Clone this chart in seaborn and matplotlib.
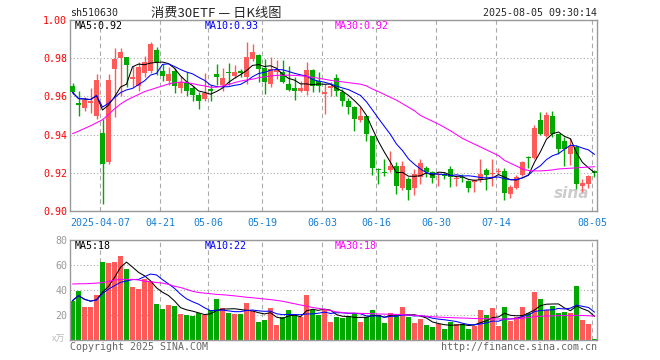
import numpy as np
import pandas as pd
import matplotlib
matplotlib.use('Agg')
import matplotlib.pyplot as plt
import seaborn as sns

sns.set_style('white')
plt.rcParams['font.family'] = ['DejaVu Sans Mono', 'Noto Sans CJK SC']

# trading days shown (2025-03-28 .. 2025-08-05, exchange holidays removed)
holidays = ['2025-04-04', '2025-05-01', '2025-05-02', '2025-05-05', '2025-06-02']
dates = [d.strftime('%Y-%m-%d') for d in pd.bdate_range('2025-03-28', '2025-08-05')
         if d.strftime('%Y-%m-%d') not in holidays]

tick_days = ['2025-04-07', '2025-04-21', '2025-05-06', '2025-05-19', '2025-06-03',
             '2025-06-16', '2025-06-30', '2025-07-14', '2025-08-05']
tick_labels = ['2025-04-07', '04-21', '05-06', '05-19', '06-03',
               '06-16', '06-30', '07-14', '08-05']

open_ = [0.9656, 0.9563, 0.9540, 0.9565, 0.9500, 0.9410, 0.9256, 0.9745, 0.9802, 0.9805,
         0.9690, 0.9655, 0.9725, 0.9735, 0.9842, 0.9733, 0.9680, 0.9733, 0.9645, 0.9675,
         0.9645, 0.9605, 0.9585, 0.9638, 0.9715, 0.9662, 0.9728, 0.9707, 0.9732, 0.9700,
         0.9796, 0.9818, 0.9747, 0.9665, 0.9730, 0.9730, 0.9665, 0.9646, 0.9630, 0.9630,
         0.9739, 0.9682, 0.9615, 0.9644, 0.9695, 0.9621, 0.9577, 0.9542, 0.9477, 0.9498,
         0.9393, 0.9221, 0.9203, 0.9214, 0.9235, 0.9121, 0.9168, 0.9121, 0.9179, 0.9225,
         0.9205, 0.9188, 0.9193, 0.9221, 0.9165, 0.9176, 0.9158, 0.9153, 0.9160, 0.9216,
         0.9193, 0.9205, 0.9212, 0.9088, 0.9123, 0.9188, 0.9283, 0.9275, 0.9475, 0.9393,
         0.9498, 0.9402, 0.9367, 0.9300, 0.9337, 0.9132, 0.9140, 0.9210]
high = [0.9668, 0.9630, 0.9595, 0.9645, 0.9718, 0.9480, 0.9718, 0.9855, 0.9855, 0.9805,
        0.9760, 0.9780, 0.9810, 0.9885, 0.9860, 0.9770, 0.9755, 0.9750, 0.9705, 0.9730,
        0.9655, 0.9625, 0.9720, 0.9660, 0.9770, 0.9750, 0.9775, 0.9765, 0.9745, 0.9884,
        0.9875, 0.9820, 0.9796, 0.9805, 0.9788, 0.9788, 0.9760, 0.9700, 0.9683, 0.9780,
        0.9742, 0.9726, 0.9665, 0.9675, 0.9715, 0.9640, 0.9590, 0.9550, 0.9542, 0.9500,
        0.9395, 0.9225, 0.9270, 0.9314, 0.9255, 0.9261, 0.9180, 0.9218, 0.9270, 0.9237,
        0.9210, 0.9202, 0.9200, 0.9235, 0.9186, 0.9195, 0.9160, 0.9168, 0.9274, 0.9225,
        0.9274, 0.9223, 0.9225, 0.9135, 0.9188, 0.9262, 0.9290, 0.9450, 0.9516, 0.9516,
        0.9525, 0.9405, 0.9390, 0.9384, 0.9345, 0.9170, 0.9190, 0.9214]
low = [0.9610, 0.9500, 0.9525, 0.9515, 0.9480, 0.9035, 0.9245, 0.9490, 0.9600, 0.9650,
       0.9650, 0.9630, 0.9700, 0.9720, 0.9710, 0.9680, 0.9660, 0.9620, 0.9620, 0.9600,
       0.9575, 0.9535, 0.9575, 0.9575, 0.9660, 0.9630, 0.9660, 0.9695, 0.9700, 0.9665,
       0.9785, 0.9674, 0.9612, 0.9650, 0.9690, 0.9670, 0.9630, 0.9582, 0.9625, 0.9605,
       0.9625, 0.9625, 0.9507, 0.9600, 0.9600, 0.9550, 0.9507, 0.9419, 0.9465, 0.9367,
       0.9191, 0.9139, 0.9182, 0.9205, 0.9091, 0.9110, 0.9060, 0.9086, 0.9140, 0.9180,
       0.9147, 0.9133, 0.9165, 0.9125, 0.9133, 0.9150, 0.9102, 0.9100, 0.9150, 0.9112,
       0.9130, 0.9195, 0.9060, 0.9070, 0.9115, 0.9184, 0.9225, 0.9270, 0.9398, 0.9390,
       0.9385, 0.9296, 0.9235, 0.9240, 0.9117, 0.9100, 0.9120, 0.9180]
close = [0.9621, 0.9556, 0.9582, 0.9575, 0.9686, 0.9244, 0.9686, 0.9795, 0.9833, 0.9762,
         0.9700, 0.9755, 0.9780, 0.9875, 0.9780, 0.9709, 0.9715, 0.9656, 0.9677, 0.9630,
         0.9605, 0.9575, 0.9618, 0.9630, 0.9700, 0.9695, 0.9722, 0.9728, 0.9724, 0.9805,
         0.9832, 0.9744, 0.9677, 0.9744, 0.9740, 0.9677, 0.9635, 0.9630, 0.9646, 0.9739,
         0.9656, 0.9656, 0.9620, 0.9652, 0.9630, 0.9577, 0.9547, 0.9481, 0.9495, 0.9402,
         0.9226, 0.9214, 0.9198, 0.9235, 0.9130, 0.9235, 0.9112, 0.9196, 0.9250, 0.9205,
         0.9174, 0.9192, 0.9185, 0.9177, 0.9170, 0.9172, 0.9123, 0.9160, 0.9195, 0.9186,
         0.9200, 0.9212, 0.9095, 0.9126, 0.9179, 0.9258, 0.9278, 0.9437, 0.9402, 0.9504,
         0.9402, 0.9323, 0.9323, 0.9340, 0.9139, 0.9147, 0.9182, 0.9200]
# volume, 10k lots
volume = [31.5, 39.5, 26.7, 26.7, 36.0, 62.7, 61.9, 62.7, 67.5, 56.8,
          42.7, 41.0, 48.8, 47.5, 28.8, 24.8, 28.0, 27.2, 20.8, 20.0,
          19.5, 21.3, 20.0, 24.0, 32.8, 25.6, 21.9, 20.8, 20.8, 29.6,
          23.2, 14.7, 16.0, 25.6, 12.0, 18.1, 24.0, 20.0, 18.7, 36.0,
          24.0, 20.0, 24.8, 14.7, 18.1, 17.3, 19.2, 21.3, 14.4, 18.7,
          24.0, 20.0, 13.9, 21.9, 20.0, 26.4, 18.7, 13.9, 16.8, 12.0,
          10.7, 12.5, 9.1, 14.7, 12.8, 12.8, 8.5, 11.5, 24.0, 20.0,
          25.6, 11.2, 26.4, 15.5, 18.1, 26.4, 21.6, 38.4, 32.8, 24.0,
          27.2, 21.9, 22.4, 21.6, 43.2, 16.0, 12.8, 0.8]
# 30-day averages as drawn (they reach back before the visible window)
ma30_price = [0.9405, 0.9418, 0.9432, 0.9446, 0.9462, 0.9478, 0.9505, 0.9535, 0.9560, 0.9580,
              0.9595, 0.9610, 0.9625, 0.9635, 0.9645, 0.9655, 0.9665, 0.9672, 0.9675, 0.9672,
              0.9667, 0.9660, 0.9655, 0.9648, 0.9648, 0.9655, 0.9662, 0.9672, 0.9680, 0.9686,
              0.9690, 0.9698, 0.9702, 0.9707, 0.9710, 0.9711, 0.9711, 0.9710, 0.9708, 0.9705,
              0.9700, 0.9695, 0.9690, 0.9684, 0.9680, 0.9676, 0.9672, 0.9668, 0.9664, 0.9655,
              0.9638, 0.9625, 0.9610, 0.9595, 0.9580, 0.9562, 0.9543, 0.9525, 0.9500, 0.9485,
              0.9470, 0.9455, 0.9438, 0.9420, 0.9400, 0.9380, 0.9365, 0.9350, 0.9335, 0.9320,
              0.9305, 0.9290, 0.9265, 0.9250, 0.9235, 0.9220, 0.9212, 0.9210, 0.9210, 0.9212,
              0.9215, 0.9220, 0.9222, 0.9224, 0.9226, 0.9228, 0.9230, 0.9232]
ma30_vol = [44.8, 45.0, 45.0, 45.2, 45.5, 45.9, 46.8, 48.0, 48.5, 48.5,
            48.5, 48.0, 47.0, 46.5, 46.0, 45.5, 44.5, 43.0, 42.0, 40.5,
            39.0, 38.0, 37.5, 37.0, 36.5, 36.2, 35.8, 35.3, 34.8, 34.2,
            33.8, 33.3, 32.8, 32.3, 31.7, 31.0, 30.0, 29.0, 28.0, 27.0,
            26.0, 25.3, 24.5, 23.5, 22.5, 22.0, 21.6, 21.5, 21.3, 21.2,
            21.0, 20.8, 20.7, 20.6, 20.5, 20.3, 20.0, 19.7, 19.4, 19.0,
            18.6, 18.3, 18.1, 17.9, 17.7, 17.6, 17.4, 17.2, 17.1, 17.0,
            16.9, 16.8, 16.8, 16.8, 17.0, 17.4, 18.0, 18.6, 19.0, 19.2,
            19.3, 19.5, 19.5, 19.6, 19.7, 19.6, 19.4, 19.2]

RED = '#ff5a5a'
GREEN = '#00a800'
GRID = '#aaaaaa'

df = pd.DataFrame({'date': dates, 'open': open_, 'high': high, 'low': low,
                   'close': close, 'volume': volume,
                   'ma30': ma30_price, 'vma30': ma30_vol})
df['x'] = np.arange(len(df))
df['ma5'] = df['close'].rolling(5, min_periods=1).mean()
df['ma10'] = df['close'].rolling(10, min_periods=1).mean()
df['vma5'] = df['volume'].rolling(5, min_periods=1).mean()
df['vma10'] = df['volume'].rolling(10, min_periods=1).mean()
colors = np.where(df['close'] >= df['open'], RED, GREEN)

tick_x = [dates.index(d) - 0.42 for d in tick_days]

fig = plt.figure(figsize=(6.6, 3.6), dpi=100)
ax = fig.add_axes([70 / 660, 1 - 211 / 360, 527 / 660, 191 / 360])
ax2 = fig.add_axes([70 / 660, 1 - 340 / 360, 527 / 660, 100 / 360])

# candles
ax.vlines(df['x'], df['low'], df['high'], color=colors, lw=1.0, zorder=2)
body_lo = np.minimum(df['open'], df['close'])
body_h = np.maximum((df['close'] - df['open']).abs(), 0.0006)
ax.bar(df['x'], body_h, bottom=body_lo, width=0.8, color=colors, linewidth=0, zorder=3)
sns.lineplot(data=df, x='x', y='ma5', ax=ax, color='black', lw=0.75, zorder=4)
sns.lineplot(data=df, x='x', y='ma10', ax=ax, color='#0000ff', lw=0.75, zorder=4)
sns.lineplot(data=df, x='x', y='ma30', ax=ax, color='#ff00ff', lw=0.75, zorder=4)

# volume
ax2.bar(df['x'], df['volume'], width=0.85, color=colors, linewidth=0, zorder=2)
sns.lineplot(data=df, x='x', y='vma5', ax=ax2, color='black', lw=0.75, zorder=4)
sns.lineplot(data=df, x='x', y='vma10', ax=ax2, color='#0000ff', lw=0.75, zorder=4)
sns.lineplot(data=df, x='x', y='vma30', ax=ax2, color='#ff00ff', lw=0.75, zorder=4)

for a in (ax, ax2):
    a.set_xlim(-0.42, len(df) - 0.58)
    a.set_xlabel('')
    a.set_ylabel('')
    a.set_xticks(tick_x)
    a.xaxis.grid(True, color=GRID, ls=(0, (4, 3)), lw=0.8)
    a.yaxis.grid(True, color=GRID, ls=(0, (1, 2)), lw=0.8)
    a.tick_params(length=0)
    for s in a.spines.values():
        s.set_color('#999999')
        s.set_linewidth(1)
    a.set_axisbelow(True)

ax.set_ylim(0.90, 1.00)
ax.set_yticks([0.90, 0.92, 0.94, 0.96, 0.98, 1.00])
ax.set_yticklabels(['0.90', '0.92', '0.94', '0.96', '0.98', '1.00'], color='#ff0000', fontsize=7.2)
ax.set_xticklabels(tick_labels, color='#1a7fd4', fontsize=7.2)
ax.tick_params(axis='x', pad=5)
ax.tick_params(axis='y', pad=2)

ax2.set_ylim(0, 80)
ax2.set_yticks([20, 40, 60, 80])
ax2.set_yticklabels(['20', '40', '60', '80'], color='#999999', fontsize=7.2)
ax2.set_xticklabels([])
ax2.tick_params(axis='y', pad=2)

ax.text(0.985, 0.05, 'sina', transform=ax.transAxes, ha='right', va='bottom',
        fontsize=11, fontweight='bold', style='italic', color='#cccccc',
        family='DejaVu Sans', zorder=1)


def fpos(x, y):
    return x / 660, 1 - y / 360


fs = 7.2
fig.text(*fpos(70, 13), 'sh510630', fontsize=fs, va='center', ha='left')
fig.text(*fpos(216, 13), '消费30ETF — 日K线图', fontsize=9.5, va='center', ha='center',
         family=['Noto Sans CJK SC', 'DejaVu Sans'])
fig.text(*fpos(597, 13), '2025-08-05 09:30:14', fontsize=fs, va='center', ha='right')

fig.text(*fpos(75, 26), 'MA5:0.92', fontsize=fs, va='center', color='black')
fig.text(*fpos(205, 26), 'MA10:0.93', fontsize=fs, va='center', color='#0000ff')
fig.text(*fpos(335, 26), 'MA30:0.92', fontsize=fs, va='center', color='#ff00ff')

fig.text(*fpos(75, 246), 'MA5:18', fontsize=fs, va='center', color='black')
fig.text(*fpos(205, 246), 'MA10:22', fontsize=fs, va='center', color='#0000ff')
fig.text(*fpos(335, 246), 'MA30:18', fontsize=fs, va='center', color='#ff00ff')

fig.text(*fpos(65, 339), 'x万', fontsize=6.5, va='center', ha='right', color='#bbbbbb',
         family=['Noto Sans CJK SC', 'DejaVu Sans'])
fig.text(*fpos(70, 347), 'Copyright 2025 SINA.COM', fontsize=fs, va='center', color='#666666')
fig.text(*fpos(597, 347), 'http://finance.sina.com.cn', fontsize=fs, va='center', ha='right',
         color='#666666')

fig.savefig('out.png', dpi=100, facecolor='white')
